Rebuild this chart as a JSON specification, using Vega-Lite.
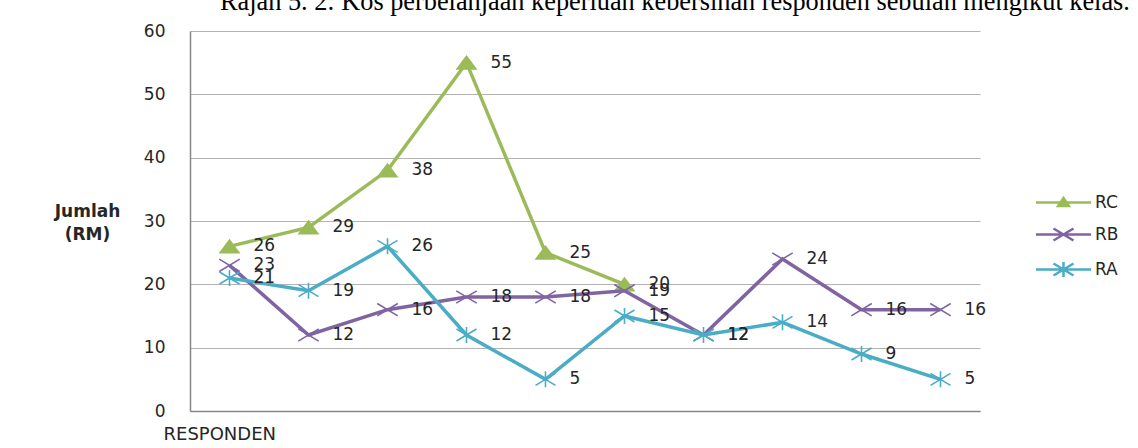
{
  "$schema": "https://vega.github.io/schema/vega-lite/v6.json",
  "width": 790,
  "height": 380,
  "autosize": {"type": "none"},
  "padding": {"left": 190, "top": 31, "right": 158, "bottom": 37},
  "background": "white",
  "title": {
    "text": "Rajah 5. 2: Kos perbelanjaan keperluan kebersihan responden sebulan mengikut kelas.",
    "anchor": "start",
    "frame": "group",
    "dx": 30,
    "dy": 28,
    "offset": 14,
    "baseline": "alphabetic",
    "font": "Liberation Serif",
    "fontSize": 26.3,
    "fontWeight": "normal",
    "color": "#000000"
  },
  "config": {"view": {"stroke": null}},
  "data": {
    "values": [
      {"idx": 1, "series": "RC", "value": 26},
      {"idx": 2, "series": "RC", "value": 29},
      {"idx": 3, "series": "RC", "value": 38},
      {"idx": 4, "series": "RC", "value": 55},
      {"idx": 5, "series": "RC", "value": 25},
      {"idx": 6, "series": "RC", "value": 20},
      {"idx": 1, "series": "RB", "value": 23},
      {"idx": 2, "series": "RB", "value": 12},
      {"idx": 3, "series": "RB", "value": 16},
      {"idx": 4, "series": "RB", "value": 18},
      {"idx": 5, "series": "RB", "value": 18},
      {"idx": 6, "series": "RB", "value": 19},
      {"idx": 7, "series": "RB", "value": 12},
      {"idx": 8, "series": "RB", "value": 24},
      {"idx": 9, "series": "RB", "value": 16},
      {"idx": 10, "series": "RB", "value": 16},
      {"idx": 1, "series": "RA", "value": 21},
      {"idx": 2, "series": "RA", "value": 19},
      {"idx": 3, "series": "RA", "value": 26},
      {"idx": 4, "series": "RA", "value": 12},
      {"idx": 5, "series": "RA", "value": 5},
      {"idx": 6, "series": "RA", "value": 15},
      {"idx": 7, "series": "RA", "value": 12},
      {"idx": 8, "series": "RA", "value": 14},
      {"idx": 9, "series": "RA", "value": 9},
      {"idx": 10, "series": "RA", "value": 5}
    ]
  },
  "encoding": {
    "x": {
      "field": "idx",
      "type": "ordinal",
      "scale": {"type": "point", "padding": 0.5},
      "axis": {
        "title": "RESPONDEN",
        "labels": false,
        "ticks": false,
        "grid": false,
        "domainColor": "#868686",
        "domainWidth": 1.5,
        "titleFont": "DejaVu Sans",
        "titleFontSize": 18,
        "titleFontWeight": "normal",
        "titleColor": "#262626",
        "titleAnchor": "start",
        "titleAlign": "left",
        "titleBaseline": "middle",
        "titleX": -27,
        "titleY": 23
      }
    },
    "y": {
      "field": "value",
      "type": "quantitative",
      "scale": {"domain": [0, 60], "nice": false},
      "axis": {
        "values": [0, 10, 20, 30, 40, 50, 60],
        "title": ["Jumlah", "(RM)"],
        "ticks": false,
        "labelPadding": 25,
        "labelFont": "DejaVu Sans",
        "labelFontSize": 17,
        "labelColor": "#262626",
        "domainColor": "#868686",
        "domainWidth": 1.5,
        "gridColor": "#b3b3b3",
        "gridWidth": 1,
        "titleAngle": 0,
        "titleX": -103,
        "titleY": 180,
        "titleAlign": "center",
        "titleBaseline": "middle",
        "titleFont": "DejaVu Sans",
        "titleFontSize": 17,
        "titleFontWeight": "bold",
        "titleLineHeight": 23,
        "titleColor": "#262626"
      }
    }
  },
  "layer": [
    {
      "transform": [{"filter": "datum.series === 'RC'"}],
      "mark": {"type": "line", "strokeWidth": 3.5, "color": "#9BBB59"},
      "encoding": {}
    },
    {
      "transform": [{"filter": "datum.series === 'RC'"}],
      "mark": {"type": "point", "shape": "M0,-0.7L1,0.65L-1,0.65Z", "size": 484, "filled": true, "color": "#9BBB59", "opacity": 1}
    },
    {
      "transform": [{"filter": "datum.series === 'RB'"}],
      "mark": {"type": "line", "strokeWidth": 3.5, "color": "#8064A2"},
      "encoding": {}
    },
    {
      "transform": [{"filter": "datum.series === 'RB'"}],
      "mark": {"type": "point", "shape": "M-1,-0.6L1,0.6M-1,0.6L1,-0.6", "size": 420, "filled": false, "stroke": "#8064A2", "strokeWidth": 1.6, "opacity": 1}
    },
    {
      "transform": [{"filter": "datum.series === 'RA'"}],
      "mark": {"type": "line", "strokeWidth": 3.5, "color": "#4BACC6"},
      "encoding": {}
    },
    {
      "transform": [{"filter": "datum.series === 'RA'"}],
      "mark": {"type": "point", "shape": "M-1,-0.6L1,0.6M-1,0.6L1,-0.6M0,-0.8L0,0.8", "size": 400, "filled": false, "stroke": "#4BACC6", "strokeWidth": 1.6, "opacity": 1}
    },
    {
      "mark": {"type": "point", "opacity": 0, "filled": false, "fill": "#9BBB59", "size": 400},
      "encoding": {
        "color": {
          "field": "series",
          "type": "nominal",
          "scale": {"domain": ["RC", "RB", "RA"], "range": ["#9BBB59", "#8064A2", "#4BACC6"]},
          "legend": {
            "title": null,
            "orient": "none",
            "legendX": 862,
            "legendY": 160,
            "symbolSize": 400,
            "symbolStrokeWidth": 2.5,
            "symbolOpacity": 1,
            "labelFont": "DejaVu Sans",
            "labelFontSize": 17,
            "labelColor": "#262626",
            "labelOffset": 20,
            "rowPadding": 11,
            "padding": 0
          }
        },
        "shape": {
          "field": "series",
          "type": "nominal",
          "scale": {
            "domain": ["RC", "RB", "RA"],
            "range": [
              "M-2.76,0L2.76,0M0,-0.45L0.54,0.36L-0.54,0.36Z",
              "M-2.76,0L2.76,0M-1,-0.6L1,0.6M-1,0.6L1,-0.6",
              "M-2.76,0L2.76,0M-1,-0.6L1,0.6M-1,0.6L1,-0.6M0,-0.75L0,0.75"
            ]
          },
          "legend": {
            "title": null,
            "orient": "none",
            "legendX": 862,
            "legendY": 160,
            "symbolSize": 400,
            "symbolStrokeWidth": 2.5,
            "symbolOpacity": 1,
            "labelFont": "DejaVu Sans",
            "labelFontSize": 17,
            "labelColor": "#262626",
            "labelOffset": 20,
            "rowPadding": 11,
            "padding": 0
          }
        }
      }
    },
    {
      "mark": {"type": "text", "align": "left", "baseline": "middle", "dx": 24, "font": "DejaVu Sans", "fontSize": 17, "color": "#262626"},
      "encoding": {"text": {"field": "value", "type": "quantitative"}}
    }
  ]
}
